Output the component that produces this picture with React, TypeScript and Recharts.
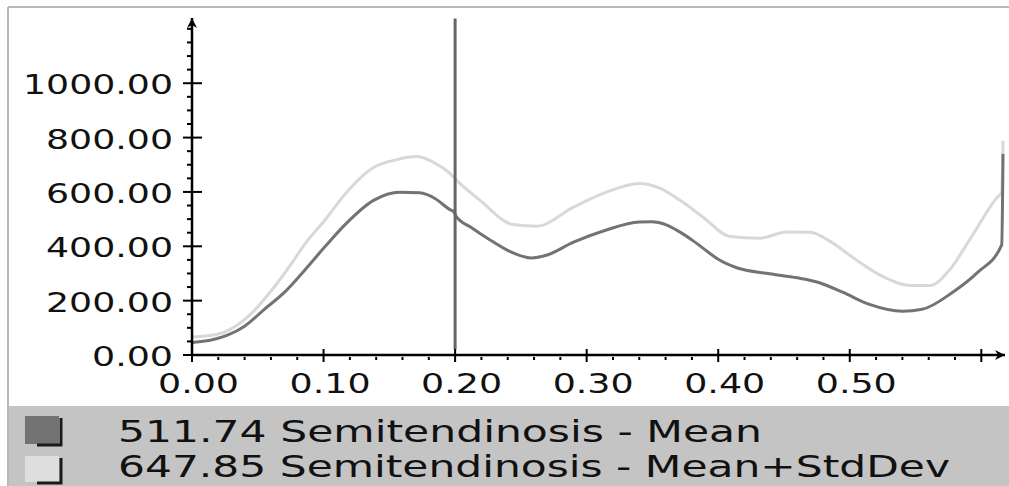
import { LineChart, Line, XAxis, YAxis, ReferenceLine } from "recharts";

// Semitendinosis mean curve (time in s, value)
const meanT = [0, 0.017, 0.027, 0.04, 0.055, 0.071, 0.086, 0.101, 0.116, 0.138, 0.158, 0.173, 0.185, 0.196, 0.199, 0.2005, 0.212, 0.226, 0.24, 0.258, 0.27, 0.29, 0.315, 0.34, 0.35, 0.36, 0.371, 0.381, 0.392, 0.4, 0.414, 0.439, 0.46, 0.477, 0.495, 0.515, 0.54, 0.555, 0.578, 0.597, 0.6155, 0.6165];
const meanV = [46, 58, 73, 106, 168, 234, 314, 398, 478, 569, 599, 597, 575, 535, 527, 512, 470, 425, 385, 357, 368, 415, 460, 489, 490, 480, 452, 420, 380, 352, 321, 299, 284, 266, 230, 186, 161, 168, 230, 303, 405, 740];

// Mean + StdDev curve
const stdT = [0, 0.02, 0.033, 0.046, 0.061, 0.076, 0.086, 0.101, 0.116, 0.138, 0.155, 0.171, 0.185, 0.196, 0.2, 0.219, 0.244, 0.262, 0.29, 0.315, 0.34, 0.356, 0.371, 0.388, 0.409, 0.432, 0.452, 0.47, 0.485, 0.505, 0.525, 0.546, 0.561, 0.576, 0.591, 0.612, 0.6155, 0.6165];
const stdV = [66, 77, 106, 157, 241, 339, 410, 496, 590, 690, 718, 730, 705, 668, 648, 569, 480, 474, 544, 599, 631, 613, 569, 509, 436, 430, 453, 452, 418, 350, 289, 256, 256, 314, 423, 580, 599, 788];

const xTicks = [0, 0.02, 0.04, 0.06, 0.08, 0.1, 0.12, 0.14, 0.16, 0.18, 0.2, 0.22, 0.24, 0.26, 0.28, 0.3, 0.32, 0.34, 0.36, 0.38, 0.4, 0.42, 0.44, 0.46, 0.48, 0.5, 0.52, 0.54, 0.56, 0.58, 0.6];
const yTicks = [0, 50, 100, 150, 200, 250, 300, 350, 400, 450, 500, 550, 600, 650, 700, 750, 800, 850, 900, 950, 1000, 1050, 1100, 1150, 1200];

const cursorT = 0.2;
const legendValues = [511.74, 647.85];
const legendNames = ["Semitendinosis - Mean", "Semitendinosis - Mean+StdDev"];

const meanData = meanT.map((t, i) => ({ t, v: meanV[i] }));
const stdData = stdT.map((t, i) => ({ t, v: stdV[i] }));

const MEAN_COLOR = "#737373";
const STD_COLOR = "#d8d8d8";
const FONT = "'DejaVu Sans', Verdana, sans-serif";

// stretched bitmap-like digits: ~23px per digit, 12px per dot
function labelWidth(s: string) {
  let w = 0;
  for (const c of s) w += c === "." ? 12 : 23;
  return w;
}

function XTick({ x, y, payload }: any) {
  const v = payload.value as number;
  const major = Math.round(v * 100) % 10 === 0;
  const label = v.toFixed(2);
  return (
    <g>
      {major ? (
        <line x1={x} x2={x} y1={y - 6} y2={y + 7} stroke="#000" strokeWidth={2} />
      ) : (
        <line x1={x} x2={x} y1={y + 2} y2={y + 5} stroke="#000" strokeWidth={2} />
      )}
      {major && v < 0.59 && (
        <text x={x - 34} y={y + 38} fontFamily={FONT} fontSize={26} fill="#111" textLength={labelWidth(label)} lengthAdjust="spacingAndGlyphs">
          {label}
        </text>
      )}
    </g>
  );
}

function YTick({ x, y, payload }: any) {
  const v = payload.value as number;
  const major = v % 200 === 0 && v <= 1000;
  const label = v.toFixed(2);
  const w = labelWidth(label);
  return (
    <g>
      {major ? (
        <line x1={x - 9} x2={x + 10} y1={y} y2={y} stroke="#000" strokeWidth={2} />
      ) : (
        <line x1={x - 5} x2={x} y1={y} y2={y} stroke="#000" strokeWidth={2} />
      )}
      {major && (
        <text x={x - 19 - w} y={y + 11} fontFamily={FONT} fontSize={26} fill="#111" textLength={w} lengthAdjust="spacingAndGlyphs">
          {label}
        </text>
      )}
    </g>
  );
}

function LegendBox() {
  const widths = [644, 832];
  const colors = [MEAN_COLOR, "#dedede"];
  const rowTop = [416, 456];
  const rowH = [28, 26];
  const baselines = [442, 477];
  return (
    <svg width={1009} height={486} style={{ position: "absolute", left: 0, top: 0, pointerEvents: "none" }}>
      <line x1={8} x2={1009} y1={7} y2={7} stroke="#b8b8b8" strokeWidth={2} />
      <line x1={8} x2={8} y1={7} y2={486} stroke="#b8b8b8" strokeWidth={2} />
      <rect x={9} y={406} width={1000} height={80} fill="#c4c4c4" />
      {legendNames.map((name, i) => (
        <g key={name}>
          <rect x={25} y={rowTop[i]} width={34} height={rowH[i]} fill={colors[i]} />
          <path d={`M61,${rowTop[i] + 2} V${rowTop[i] + rowH[i] + 1} H37`} stroke="#1a1a1a" strokeWidth={3} fill="none" />
          <text x={118} y={baselines[i]} fontFamily={FONT} fontSize={30} fill="#111" textLength={widths[i]} lengthAdjust="spacingAndGlyphs">
            {legendValues[i].toFixed(2)} {name}
          </text>
        </g>
      ))}
    </svg>
  );
}

export default function App() {
  return (
    <div style={{ position: "absolute", left: 0, top: 0, width: 1009, height: 486, background: "#fff" }}>
      <LineChart width={1009} height={486} margin={{ top: 18, right: 4, bottom: 91, left: 0 }}>
        <defs>
          <marker id="arrowUp" viewBox="0 0 10 10" refX={10} refY={5} markerWidth={10} markerHeight={10} markerUnits="userSpaceOnUse" orient="auto-start-reverse">
            <path d="M0,0 L10,5 L0,10 L3,5 Z" fill="#000" />
          </marker>
          <marker id="arrowRight" viewBox="0 0 10 10" refX={10} refY={5} markerWidth={10} markerHeight={10} markerUnits="userSpaceOnUse" orient="auto">
            <path d="M0,0 L10,5 L0,10 L3,5 Z" fill="#000" />
          </marker>
        </defs>
        <XAxis
          dataKey="t"
          type="number"
          domain={[0, 0.618]}
          allowDataOverflow
          ticks={xTicks}
          interval={0}
          tick={<XTick />}
          tickLine={false}
          tickSize={0}
          tickMargin={0}
          height={40}
          axisLine={{ stroke: "#000", strokeWidth: 2.5, markerEnd: "url(#arrowRight)" }}
        />
        <YAxis
          type="number"
          domain={[0, 1240]}
          allowDataOverflow
          ticks={yTicks}
          interval={0}
          tick={<YTick />}
          tickLine={false}
          tickSize={0}
          tickMargin={0}
          width={192}
          axisLine={{ stroke: "#000", strokeWidth: 2.5, markerStart: "url(#arrowUp)" }}
        />
        <Line data={stdData} dataKey="v" type="monotone" stroke={STD_COLOR} strokeWidth={3} dot={false} isAnimationActive={false} />
        <Line data={meanData} dataKey="v" type="monotone" stroke={MEAN_COLOR} strokeWidth={3} dot={false} isAnimationActive={false} />
        <ReferenceLine segment={[{ x: cursorT, y: 1238 }, { x: cursorT, y: 20 }]} stroke="#666" strokeWidth={3} />
      </LineChart>
      <LegendBox />
    </div>
  );
}
